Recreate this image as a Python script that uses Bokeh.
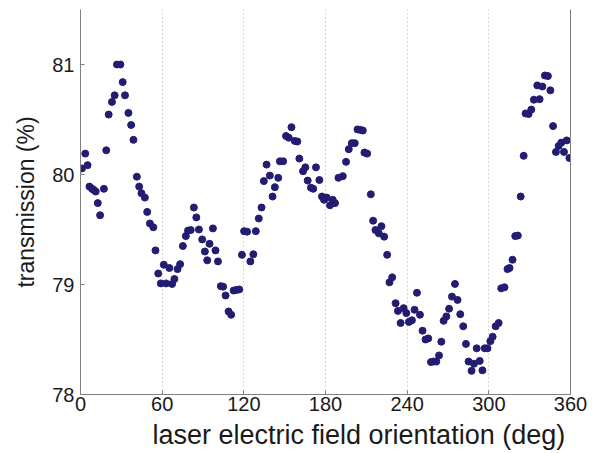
from bokeh.plotting import figure
from bokeh.models import LinearAxis, FixedTicker, ColumnDataSource, Title
from bokeh.embed import file_html
from bokeh.resources import INLINE

# laser electric field orientation (deg)
angle = [1.1, 3.5, 5.2, 6.6, 8.5, 9.7, 11.2, 12.7, 14.4, 17.2, 18.9, 20.7, 23.1, 25.1, 26.8,
         29.3, 31.0, 32.7, 35.2, 37.2, 38.9, 41.4, 43.1, 44.8, 47.3, 49.0, 51.0, 53.5, 55.1,
         57.1, 59.0, 61.2, 62.9, 65.3, 67.3, 69.0, 71.3, 73.2, 75.2, 77.4, 79.0, 81.0, 83.3,
         85.1, 87.0, 89.4, 91.4, 93.1, 94.8, 97.3, 99.2, 101.0, 103.1, 104.8, 106.6, 108.8,
         110.7, 112.5, 114.4, 116.6, 118.6, 120.2, 122.4, 124.8, 127.0, 128.8, 131.0, 133.0,
         134.7, 136.7, 139.1, 141.1, 142.8, 145.3, 146.5, 148.9, 151.0, 153.0, 155.0, 157.4,
         159.3, 160.8, 163.5, 165.2, 166.9, 169.3, 171.0, 173.0, 175.5, 177.4, 178.9, 180.9,
         183.3, 185.3, 187.0, 189.5, 192.7, 195.1, 197.1, 199.3, 201.5, 203.5, 205.7, 207.4,
         208.6, 210.6, 213.3, 215.0, 216.7, 219.2, 221.1, 223.1, 225.3, 227.0, 229.0, 231.5,
         233.2, 235.2, 237.4, 239.4, 241.3, 243.5, 245.4, 247.2, 249.4, 251.3, 253.5, 255.5,
         257.5, 259.4, 261.4, 263.4, 265.1, 266.8, 268.8, 270.8, 272.9, 275.1, 277.0, 279.0,
         281.2, 283.2, 285.1, 287.3, 289.1, 291.1, 293.3, 295.3, 297.0, 299.0, 301.1, 302.8,
         305.0, 307.2, 309.1, 311.5, 313.7, 315.2, 317.4, 319.4, 321.3, 323.4, 325.6, 327.0,
         329.2, 331.2, 333.1, 335.6, 337.3, 339.3, 341.2, 343.4, 345.2, 347.2, 349.3, 351.3,
         353.3, 355.2, 357.2, 359.2]

# transmission (%)
transmission = [80.055, 80.19, 80.085, 79.89, 79.87, 79.86, 79.845, 79.74, 79.63, 79.87, 80.22,
                80.545, 80.66, 80.72, 81.00, 81.00, 80.84, 80.72, 80.56, 80.45, 80.315, 79.98,
                79.89, 79.83, 79.79, 79.66, 79.555, 79.52, 79.31, 79.10, 79.01, 79.18, 79.01,
                79.15, 79.005, 79.05, 79.14, 79.185, 79.35, 79.44, 79.49, 79.495, 79.70, 79.61,
                79.50, 79.41, 79.30, 79.22, 79.37, 79.51, 79.31, 79.21, 78.985, 78.98, 78.90,
                78.755, 78.725, 78.945, 78.95, 78.955, 79.27, 79.485, 79.48, 79.21, 79.275,
                79.485, 79.60, 79.70, 79.94, 80.09, 79.99, 79.80, 79.885, 79.97, 80.12, 80.12,
                80.35, 80.335, 80.43, 80.305, 80.30, 80.145, 80.03, 80.065, 79.945, 79.88,
                79.87, 80.065, 79.95, 79.80, 79.77, 79.79, 79.72, 79.77, 79.74, 79.97, 79.985,
                80.115, 80.23, 80.285, 80.285, 80.41, 80.405, 80.40, 80.20, 80.19, 79.82, 79.58,
                79.495, 79.465, 79.53, 79.435, 79.27, 79.02, 79.065, 78.83, 78.76, 78.65,
                78.785, 78.74, 78.66, 78.675, 78.77, 78.925, 78.725, 78.58, 78.50, 78.51,
                78.295, 78.30, 78.30, 78.355, 78.48, 78.67, 78.71, 78.78, 78.89, 79.005, 78.86,
                78.73, 78.62, 78.46, 78.30, 78.215, 78.28, 78.42, 78.305, 78.22, 78.42, 78.42,
                78.485, 78.525, 78.62, 78.65, 78.965, 78.975, 79.14, 79.15, 79.225, 79.44,
                79.445, 79.80, 80.17, 80.555, 80.55, 80.59, 80.68, 80.81, 80.685, 80.80, 80.90,
                80.895, 80.765, 80.44, 80.205, 80.26, 80.29, 80.205, 80.31, 80.15]

x_ticks = [0, 60, 120, 180, 240, 300, 360]
y_ticks = [78, 79, 80, 81]
x_label = "laser electric field orientation (deg)"
y_label = "transmission (%)"

FONT = "Liberation Sans"
AXIS_COL = "#808080"
TXT = "#1a1a1a"

p = figure(width=596, height=453, x_range=(0, 360), y_range=(78, 81.5),
           output_backend="svg", toolbar_location=None,
           min_border_left=80, min_border_right=26, min_border_top=9, min_border_bottom=0,
           y_axis_label=y_label)
p.outline_line_color = None
p.background_fill_color = "white"
p.border_fill_color = "white"

src = ColumnDataSource(dict(x=angle, y=transmission))
p.scatter("x", "y", source=src, size=7, fill_color="#231d72", line_color="#231d72")

for ax in (p.xaxis[0], p.yaxis[0]):
    ax.axis_line_color = AXIS_COL
    ax.major_tick_line_color = AXIS_COL
    ax.major_tick_in = 4
    ax.major_tick_out = 0
    ax.minor_tick_line_color = None
    ax.major_label_text_font = FONT
    ax.major_label_text_font_size = "20px"
    ax.major_label_text_color = TXT
    ax.axis_label_text_font = FONT
    ax.axis_label_text_font_size = "23px"
    ax.axis_label_text_font_style = "normal"
    ax.axis_label_text_color = TXT

p.xaxis[0].ticker = FixedTicker(ticks=x_ticks)
p.yaxis[0].ticker = FixedTicker(ticks=y_ticks)
p.xaxis[0].major_label_standoff = 2
p.yaxis[0].major_label_standoff = 6
p.yaxis[0].axis_label_standoff = 10

xt = Title(text=x_label, align="left", offset=72, text_font=FONT, text_font_size="27px",
           text_font_style="normal", text_color=TXT, standoff=8)
p.add_layout(xt, "below")

right = LinearAxis(ticker=FixedTicker(ticks=[]), axis_line_color=AXIS_COL,
                   major_tick_line_color=None, minor_tick_line_color=None,
                   major_label_text_font_size="0px")
p.add_layout(right, "right")

p.ygrid.grid_line_color = None
p.xgrid.ticker = FixedTicker(ticks=[60, 120, 180, 240, 300])
p.xgrid.grid_line_color = "#b0b0b0"
p.xgrid.grid_line_dash = "1 3"
p.xgrid.grid_line_width = 1

open("out.html", "w").write(file_html(p, INLINE))
